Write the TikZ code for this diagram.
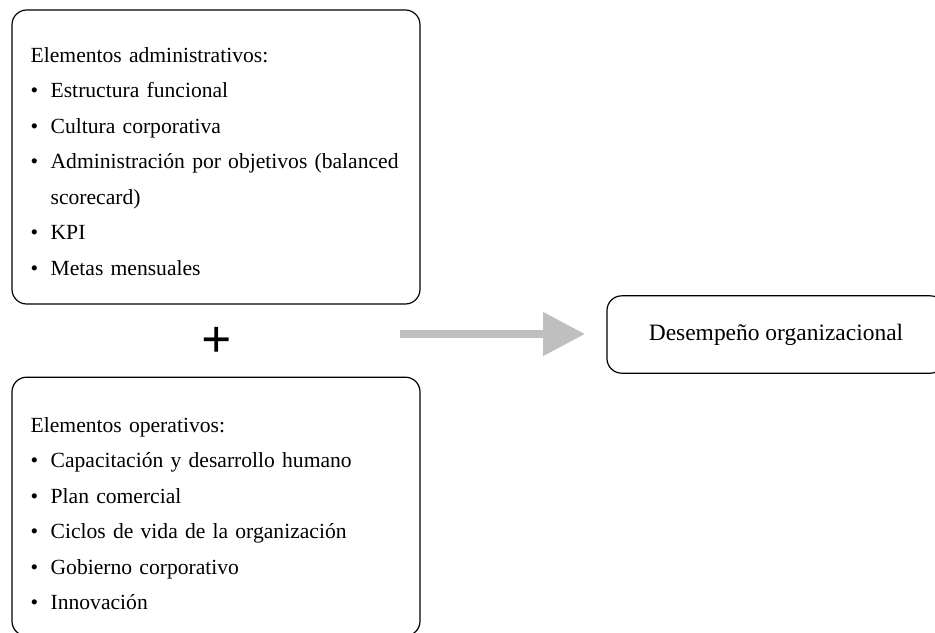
\documentclass[tikz,border=0pt]{standalone}
\usepackage{fontspec}
\setmainfont{Liberation Serif}
\usetikzlibrary{arrows.meta,positioning}

\newcommand{\itm}{\makebox[15pt][l]{\textbullet}}

\begin{document}
\begin{tikzpicture}[
  x=0.75pt, y=-0.75pt,
  every node/.style={font=\fontsize{16.2}{26.6}\selectfont},
  panel/.style={rectangle, draw, rounded corners=11pt, line width=0.9pt,
    align=left, text width=278pt, inner xsep=14pt},
  result/.style={rectangle, draw, rounded corners=11pt, line width=0.9pt,
    minimum width=253.5pt, minimum height=58pt, align=center,
    font=\fontsize{17.6}{20}\selectfont},
  flow/.style={line width=6pt, color=gray!50,
    -{Triangle[length=31.5pt, width=31.5pt]}},
  plus/.style={font=\fontsize{40}{40}\selectfont\bfseries, inner sep=0pt},
]
\useasboundingbox (0,0) rectangle (935,632);

% Left column: the two groups of elements
\node[panel, minimum height=220.5pt] at (216,157) (admin) {\rule{0pt}{18pt}Elementos administrativos:\\
  \itm Estructura funcional\\
  \itm Cultura corporativa\\
  \itm Administración por objetivos (balanced\\
  \hspace*{15pt}scorecard)\\
  \itm KPI\\
  \itm Metas mensuales};
\node[plus] at (217,342) (sum) {+};
\node[panel, minimum height=194pt] at (216,506.5) (oper) {\rule{0pt}{22pt}Elementos operativos:\\
  \itm Capacitación y desarrollo humano\\
  \itm Plan comercial\\
  \itm Ciclos de vida de la organización\\
  \itm Gobierno corporativo\\
  \itm Innovación};

% Right: outcome
\node[result] at (776,334.5) (perf) {Desempeño organizacional};

% Arrow
\coordinate (src) at (400,334);
\coordinate (dst) at (585,334);
\draw[flow] (src) -- (dst);

\end{tikzpicture}
\end{document}
